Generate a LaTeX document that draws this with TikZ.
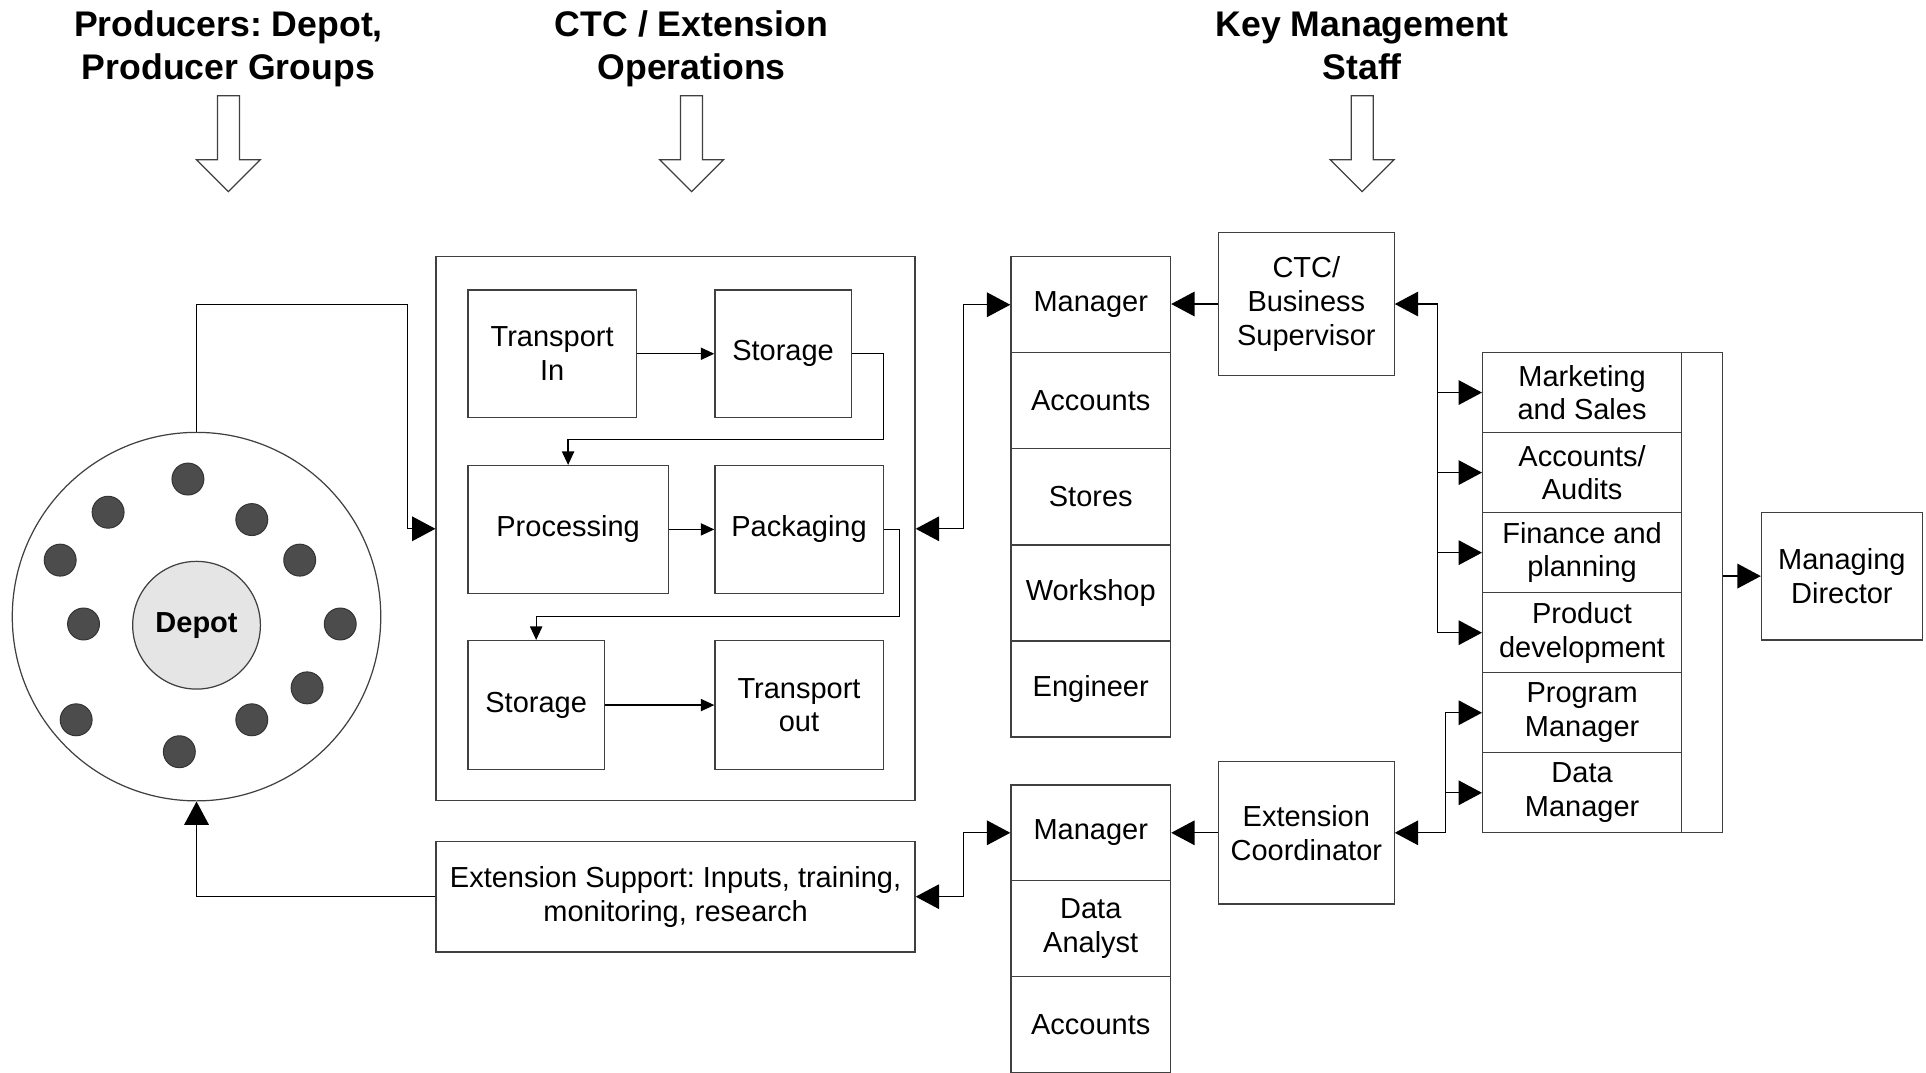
\documentclass[tikz,border=0pt]{standalone}
\usepackage{fontspec}
\setmainfont{Liberation Sans}
\frenchspacing
\usetikzlibrary{arrows.meta,positioning,calc}

\tikzset{
  blk/.style 2 args={draw=black!75,line width=0.5pt,inner sep=0pt,align=center,
    minimum width=#1*0.5pt,minimum height=#2*0.5pt},
  hd/.style={font=\fontsize{14.5}{17.5}\selectfont\bfseries,align=center},
  dot/.style={draw=black!80,fill=black!70,line width=0.4pt},
  arr/.style={-{Triangle[length=9.5pt,width=10pt]}},
  darr/.style={{Triangle[length=9.5pt,width=10pt]}-{Triangle[length=9.5pt,width=10pt]}},
  sarr/.style={-{Triangle[length=5.5pt,width=5pt]}},
}

\begin{document}
\begin{tikzpicture}[x=0.5pt,y=-0.5pt,line width=0.5pt,font=\fontsize{11.8}{13.7}\selectfont]
  \useasboundingbox (0,0) rectangle (1568,873);

  % column headers and the open arrows below them
  \node[hd] (hd1) at (186,40) {Producers: Depot,\\Producer Groups};
  \node[hd] (hd2) at (563,40) {CTC / Extension\\Operations};
  \node[hd] (hd3) at (1109,37.5) {Key Management\\Staff};
  \foreach \c in {186,563,1109}{
    \draw[black!75] (\c-9,78) -- (\c+9,78) -- (\c+9,130) -- (\c+26,130) -- (\c,156)
      -- (\c-26,130) -- (\c-9,130) -- cycle;
  }

  % producers around the depot
  \node[circle,draw=black!75,minimum size=150pt,inner sep=0pt] (ring) at (160,502) {};
  \node[circle,draw=black!75,fill=black!10,minimum size=52pt,inner sep=0pt,font=\fontsize{11.8}{13.7}\selectfont\bfseries] (depot) at (160,509) {Depot};
  \foreach \x/\y in {153/390,88/417,205/423,49/456,244/456,68/508,277/508,250/560,62/586,205/586,146/612}
    \filldraw[dot] (\x,\y) circle[radius=6.5pt];

  % operations frame
  \node[blk={390}{443}] (ops) at (550,430.5) {};
  \node[blk={137}{104}] (tin) at (449.5,288) {Transport\\In};
  \node[blk={111}{104}] (sto1) at (637.5,288) {Storage};
  \node[blk={163}{104}] (proc) at (462.5,431) {Processing};
  \node[blk={137}{104}] (pack) at (650.5,431) {Packaging};
  \node[blk={111}{105}] (sto2) at (436.5,574) {Storage};
  \node[blk={137}{105}] (tout) at (650.5,574) {Transport\\out};
  \draw[sarr] (tin.east) -- (sto1.west);
  \draw[sarr] (sto1.east) -| ++(26,70) -| (proc.north);
  \draw[sarr] (proc.east) -- (pack.west);
  \draw[sarr] (pack.east) -| ++(13,71) -| (sto2.north);
  \draw[sarr] (sto2.east) -- (tout.west);

  \node[blk={390}{90}] (ext) at (550,730) {Extension Support: Inputs, training,\\monitoring, research};

  % staff stacks
  \foreach \t [count=\i] in {Manager,Accounts,Stores,Workshop,Engineer}
    \node[blk={130}{78.2}] (ts\i) at (888,{209+78.2*(\i-0.5)}) {\t};
  \foreach \t [count=\i] in {Manager,Data\\Analyst,Accounts}
    \node[blk={130}{78}] (bs\i) at (888,{639+78*(\i-0.5)}) {\t};

  \node[blk={143}{117}] (sup) at (1063.5,247.5) {CTC/\\Business\\Supervisor};
  \node[blk={143}{116}] (coord) at (1063.5,678) {Extension\\Coordinator};

  \node[blk={195}{391}] (kms) at (1304.5,482.5) {};
  \foreach \t [count=\i] in {Marketing\\and Sales,Accounts/\\Audits,Finance and\\planning,Product\\development,Program\\Manager,Data\\Manager}
    \node[blk={162}{65.17}] (rs\i) at (1288,{287+65.17*(\i-0.5)}) {\t};
  \node[blk={131}{104}] (md) at (1499.5,469) {Managing\\Director};

  % connectors
  \draw[arr] (ring.north) |- ($(ops.west)+(-23,-182.5)$) |- (ops.west);
  \draw[arr] (ext.west) -| (ring.south);
  \draw[darr] (ops.east) -- ++(39,0) |- (ts1.west);
  \draw[darr] (ext.east) -- ++(39,0) |- (bs1.west);
  \draw[arr] (sup.west) -- (sup.west -| ts1.east);
  \draw[arr] (coord.west) -- (coord.west -| bs1.east);
  \draw[arr] ($(sup.east)+(35,0)$) coordinate (supj) -- (sup.east);
  \foreach \i in {1,...,4}
    \draw[arr] (supj) |- (rs\i.west);
  \draw[arr] ($(coord.east)+(41,0)$) coordinate (coj) -- (coord.east);
  \foreach \i in {5,6}
    \draw[arr] (coj) |- (rs\i.west);
  \draw[arr] (kms.east |- md.west) -- (md.west);
\end{tikzpicture}
\end{document}
